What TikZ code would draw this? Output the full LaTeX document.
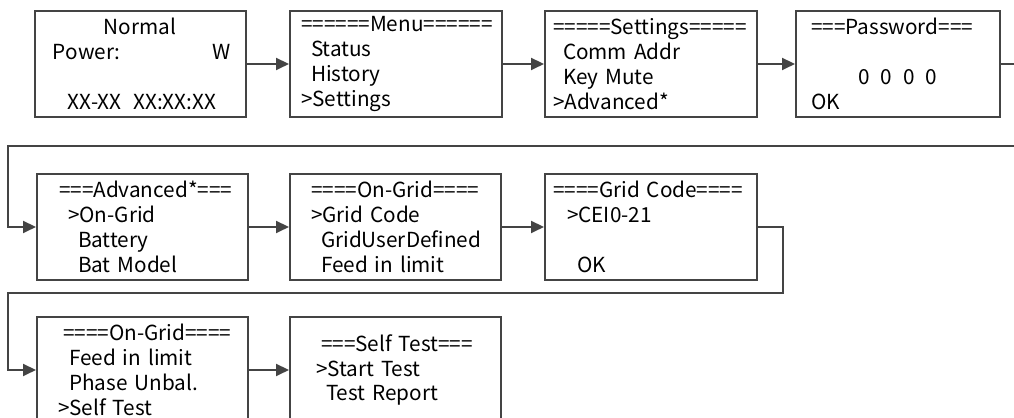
\documentclass[tikz,border=0pt]{standalone}
\usepackage{fontspec}
\setmainfont{Noto Sans CJK SC}
\usetikzlibrary{arrows.meta,positioning}
\newdimen\px \px=0.02cm
\definecolor{mgray}{HTML}{444444}
\tikzset{
  mbox/.style={draw=mgray, line width=0.04cm, anchor=north west, align=left, inner xsep=0pt, inner ysep=0pt, minimum height=2.12cm, font=\fontsize{11.8}{14.2}\selectfont},
  marrow/.style={draw=mgray, line width=0.04cm, -{Triangle[length=0.26cm,width=0.24cm]}}
}

\begin{document}
\begin{tikzpicture}[x=0.02cm,y=-0.02cm]
\useasboundingbox (0,0) rectangle (1014,418);
\node[mbox, text width=4.22cm] (normal) at (34,10) {\hspace*{69\px}Normal\\\hspace*{18\px}\makebox[160\px][l]{Power:}W\\~\\\hspace*{33\px}XX-XX\hspace{12\px}XX:XX:XX};
\node[mbox, text width=4.24cm] (menu) at (289,10) {\hspace*{11\px}======Menu======\\\hspace*{21\px}Status\\\hspace*{21\px}History\\\hspace*{11\px}>Settings};
\node[mbox, text width=4.24cm] (settings) at (544,10) {\hspace*{8\px}=====Settings=====\\\hspace*{18\px}Comm Addr\\\hspace*{18\px}Key Mute\\\hspace*{8\px}>Advanced*};
\node[mbox, text width=4.08cm] (password) at (795,10) {\hspace*{15\px}===Password===\\~\\\hspace*{62\px}0\hspace{11\px}0\hspace{11\px}0\hspace{11\px}0\\\hspace*{15\px}OK};
\node[mbox, text width=4.22cm] (advanced) at (36,173) {\hspace*{22\px}===Advanced*===\\\hspace*{31\px}>On-Grid\\\hspace*{41\px}Battery\\\hspace*{41\px}Bat Model};
\node[mbox, text width=4.22cm] (ongrid) at (289,173) {\hspace*{21\px}====On-Grid====\\\hspace*{21\px}>Grid Code\\\hspace*{31\px}GridUserDefined\\\hspace*{31\px}Feed in limit};
\node[mbox, text width=4.24cm] (gridcode) at (544,173) {\hspace*{8\px}====Grid Code====\\\hspace*{22\px}>CEI0-21\\~\\\hspace*{32\px}OK};
\node[mbox, text width=4.22cm] (ongridb) at (36,316) {\hspace*{26\px}====On-Grid====\\\hspace*{32\px}Feed in limit\\\hspace*{32\px}Phase Unbal.\\\hspace*{21\px}>Self Test};
\node[mbox, text width=4.22cm] (selftest) at (289,316) {\hspace*{31\px}===Self Test===\\\hspace*{26\px}>Start Test\\\hspace*{36\px}Test Report};
\coordinate (wrapa) at (1024,146);
\coordinate (wrapb) at (8,146);
\coordinate (wrapc) at (783,293);
\coordinate (wrapd) at (8,293);
\draw[marrow] (normal.east) -- (menu.west);
\draw[marrow] (menu.east) -- (settings.west);
\draw[marrow] (settings.east) -- (password.west);
\draw[marrow] (password.east) -| (wrapa) -- (wrapb) |- (advanced.west);
\draw[marrow] (advanced.east) -- (ongrid.west);
\draw[marrow] (ongrid.east) -- (gridcode.west);
\draw[marrow] (gridcode.east) -| (wrapc) -- (wrapd) |- (ongridb.west);
\draw[marrow] (ongridb.east) -- (selftest.west);
\end{tikzpicture}
\end{document}
